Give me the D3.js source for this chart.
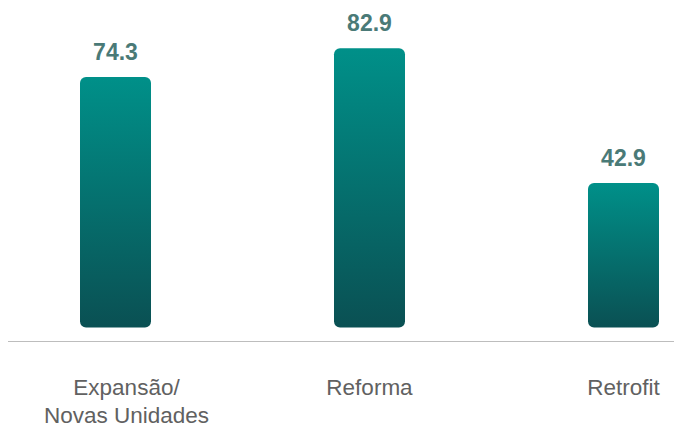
<!DOCTYPE html>
<html>
<head>
<meta charset="utf-8">
<script src="https://cdn.jsdelivr.net/npm/d3@7"></script>
<style>
  html, body { margin: 0; padding: 0; background: #fff; }
  svg { display: block; }
</style>
</head>
<body>
<svg id="chart" width="674" height="425"></svg>
<script>
// Investment categories and their values
const categories = ["Expansão/\nNovas Unidades", "Reforma", "Retrofit"];
const values = [74.3, 82.9, 42.9];
const labelOffsets = [11, 0, 0];

const svg = d3.select("#chart");
const W = 674;

const x = d3.scaleBand()
  .domain(categories)
  .range([-11.5, 750.5])
  .paddingInner(0.72)
  .paddingOuter(0.36);

const y = d3.scaleLinear()
  .domain([0, 100])
  .range([327.5, -9.5]);

const defs = svg.append("defs");
const grad = defs.append("linearGradient")
  .attr("id", "barGrad")
  .attr("x1", 0).attr("y1", 0).attr("x2", 0).attr("y2", 1);
grad.append("stop").attr("offset", "0%").attr("stop-color", "#009089");
grad.append("stop").attr("offset", "100%").attr("stop-color", "#0a5053");

// baseline
svg.append("line")
  .attr("x1", 8).attr("x2", W)
  .attr("y1", 341.5).attr("y2", 341.5)
  .attr("stroke", "#bdbdbd")
  .attr("stroke-width", 1.2);

const bw = 71;
const g = svg.append("g");

g.selectAll("rect.bar")
  .data(values)
  .join("rect")
  .attr("class", "bar")
  .attr("x", (d, i) => x(categories[i]) + x.bandwidth() / 2 - bw / 2)
  .attr("y", d => y(d))
  .attr("width", bw)
  .attr("height", d => y(0) - y(d))
  .attr("rx", 6)
  .attr("fill", "url(#barGrad)");

// value labels
g.selectAll("text.value")
  .data(values)
  .join("text")
  .attr("class", "value")
  .attr("x", (d, i) => x(categories[i]) + x.bandwidth() / 2)
  .attr("y", d => y(d) - 17)
  .attr("text-anchor", "middle")
  .attr("font-family", "Liberation Sans, Arial, sans-serif")
  .attr("font-weight", "bold")
  .attr("font-size", 23)
  .attr("fill", "#4a7a77")
  .text(d => d.toFixed(1));

// category labels
const cat = g.selectAll("text.cat")
  .data(categories)
  .join("text")
  .attr("class", "cat")
  .attr("text-anchor", "middle")
  .attr("font-family", "Liberation Sans, Arial, sans-serif")
  .attr("font-size", 22.5)
  .attr("fill", "#616161");

cat.each(function (d, i) {
  const cx = x(d) + x.bandwidth() / 2 + labelOffsets[i];
  d.split("\n").forEach((line, j) => {
    d3.select(this).append("tspan")
      .attr("x", cx)
      .attr("y", 395 + j * 27.5)
      .text(line);
  });
});
</script>
</body>
</html>
